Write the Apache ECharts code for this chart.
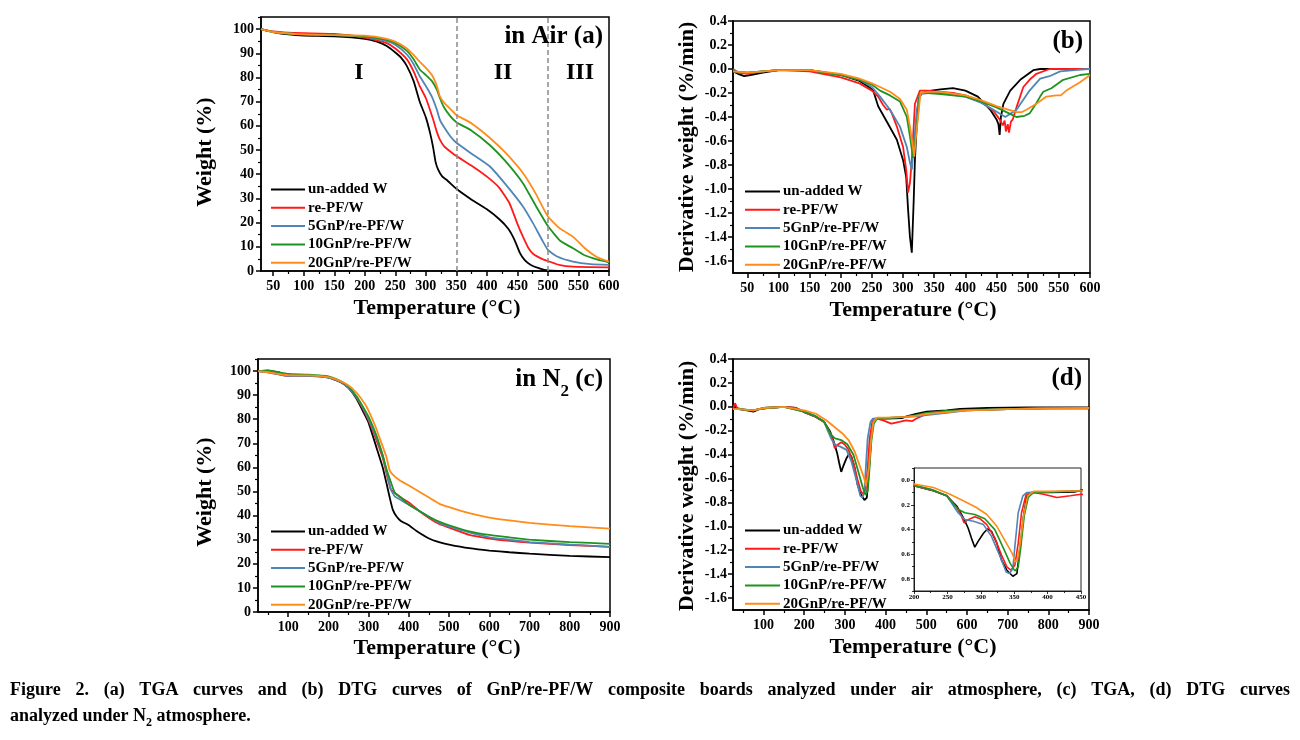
<!DOCTYPE html>
<html><head><meta charset="utf-8">
<script src="https://cdn.jsdelivr.net/npm/echarts@6/dist/echarts.min.js"></script>
<style>html,body{margin:0;padding:0;background:#fff}#c{width:1300px;height:740px}</style>
</head><body><div id="c"></div>
<script>
// ---------- series names ----------
const NAMES = ['un-added W', 're-PF/W', '5GnP/re-PF/W', '10GnP/re-PF/W', '20GnP/re-PF/W'];
const COLORS = ['#000000', '#ff1a1a', '#4f86b5', '#1f931f', '#ff8c1a'];

// ---------- (a) TGA in air : [T(°C), weight %] ----------
const A_UNADDED = [[30,100],[50,98.8],[75,97.8],[100,97.3],[150,97],[200,96],[220,94.8],[236,93],[250,90.3],[260,88],[269,84.7],[280,78.5],[290,70],[300,63.5],[307,57],[312,51],[316,45],[320,42],[327,39],[334,37.7],[350,34],[375,29.5],[400,25.5],[420,21.5],[435,17.5],[445,13],[454,7.5],[462,4.5],[472,2.5],[485,1.2],[500,0.2],[525,0],[600,0]];
const A_REPF = [[30,100],[50,99],[75,98.5],[100,98.3],[150,98],[200,96.5],[236,94.2],[250,92],[269,87.5],[280,82.5],[290,76.4],[300,71.5],[312,62.6],[318,57.5],[323,54.3],[330,51.5],[340,49.4],[350,47.5],[375,43.5],[400,39],[420,34.5],[437,28],[450,19.5],[459,14.2],[468,9.5],[476,7],[490,5],[500,4.1],[520,2.4],[541,1.8],[600,1.5]];
const A_5GNP = [[30,100],[50,98.8],[100,97.8],[150,97.5],[200,96.8],[236,95],[250,93.5],[269,89.5],[280,85.5],[290,80.5],[300,76.5],[310,72],[318,66.7],[323,62.5],[329,59.8],[340,55.7],[350,53],[375,48.5],[405,43.2],[430,36],[459,26.7],[475,20],[490,13],[500,8.7],[515,6],[541,3.9],[570,2.8],[600,2.5]];
const A_10GNP = [[30,100],[50,98.8],[100,97.8],[150,97.5],[200,97],[236,95.5],[250,94.3],[269,91],[280,87.5],[290,83.3],[300,81],[310,78.5],[318,75],[323,71.5],[329,68],[340,64],[350,61.5],[375,58],[405,52],[430,45.5],[459,36.3],[480,27],[500,18.6],[520,12.5],[541,9.4],[560,6.5],[580,4.8],[600,3.6]];
const A_20GNP = [[30,100],[50,98.8],[100,97.8],[150,97.5],[200,97.3],[236,96],[250,94.8],[269,92],[280,89.3],[290,86.5],[300,84],[310,81],[318,76.5],[323,72.2],[330,69.5],[340,67],[350,64.5],[375,61],[405,55],[430,49],[459,40.5],[480,32],[500,22.5],[520,17.5],[541,14.2],[560,9.5],[580,5.8],[600,3.9]];

// ---------- (b) DTG in air : [T, %/min] ----------
const B_UNADDED = [[27,-0.02],[35,-0.04],[45,-0.06],[55,-0.05],[75,-0.03],[100,-0.01],[150,-0.01],[200,-0.05],[230,-0.1],[245,-0.15],[252,-0.18],[260,-0.31],[274,-0.44],[290,-0.59],[300,-0.76],[305,-0.9],[308,-1.17],[311,-1.4],[314,-1.53],[317,-1.1],[319,-0.76],[322,-0.45],[325,-0.25],[330,-0.2],[345,-0.18],[360,-0.17],[380,-0.16],[400,-0.18],[420,-0.23],[440,-0.34],[450,-0.42],[453,-0.46],[455,-0.55],[457,-0.4],[461,-0.29],[472,-0.18],[488,-0.09],[509,-0.01],[520,0],[600,0]];
const B_REPF = [[27,0],[35,-0.03],[50,-0.04],[75,-0.02],[100,-0.01],[150,-0.02],[200,-0.07],[230,-0.12],[250,-0.18],[260,-0.23],[268,-0.3],[274,-0.34],[278,-0.33],[282,-0.37],[290,-0.48],[300,-0.65],[305,-0.84],[308,-1.03],[311,-0.95],[314,-0.76],[319,-0.29],[327,-0.18],[340,-0.18],[360,-0.19],[380,-0.2],[400,-0.22],[425,-0.27],[445,-0.35],[455,-0.42],[460,-0.47],[463,-0.43],[465,-0.52],[468,-0.46],[470,-0.53],[473,-0.44],[476,-0.42],[482,-0.32],[493,-0.15],[503,-0.09],[514,-0.04],[535,0],[600,0]];
const B_5GNP = [[27,-0.02],[50,-0.03],[100,-0.01],[150,-0.01],[200,-0.05],[230,-0.09],[250,-0.15],[263,-0.23],[279,-0.34],[295,-0.48],[306,-0.65],[311,-0.78],[314,-0.84],[317,-0.65],[322,-0.34],[327,-0.21],[340,-0.2],[360,-0.2],[400,-0.23],[425,-0.28],[445,-0.34],[464,-0.4],[482,-0.34],[503,-0.18],[520,-0.08],[535,-0.06],[552,-0.02],[575,-0.01],[597,0],[600,0]];
const B_10GNP = [[27,-0.02],[50,-0.03],[100,-0.01],[150,-0.01],[200,-0.05],[230,-0.09],[250,-0.13],[263,-0.18],[279,-0.22],[295,-0.27],[306,-0.4],[311,-0.56],[316,-0.74],[319,-0.62],[322,-0.48],[327,-0.2],[340,-0.2],[360,-0.21],[400,-0.23],[425,-0.27],[450,-0.32],[470,-0.37],[482,-0.4],[495,-0.39],[503,-0.37],[512,-0.3],[520,-0.23],[525,-0.19],[538,-0.16],[557,-0.09],[584,-0.05],[600,-0.04]];
const B_20GNP = [[27,-0.02],[50,-0.03],[100,-0.01],[150,-0.01],[200,-0.04],[230,-0.08],[250,-0.12],[263,-0.15],[279,-0.19],[295,-0.25],[306,-0.34],[311,-0.48],[318,-0.73],[320,-0.6],[323,-0.45],[328,-0.2],[340,-0.19],[360,-0.19],[400,-0.22],[425,-0.26],[450,-0.31],[470,-0.34],[482,-0.36],[490,-0.36],[498,-0.34],[514,-0.29],[530,-0.23],[546,-0.22],[553,-0.22],[562,-0.18],[584,-0.11],[600,-0.05]];

// ---------- (c) TGA in N2 ----------
const C_UNADDED = [[25,100],[50,100.2],[75,99.5],[100,98.5],[150,98.2],[200,97.3],[230,95.5],[250,93],[270,88.5],[290,82],[300,78.5],[320,68],[335,60],[345,53],[352,47.8],[360,42.5],[370,39.5],[380,37.8],[400,36],[420,33.5],[450,30.5],[475,29],[500,28],[550,26.5],[600,25.5],[650,24.8],[700,24.2],[800,23.3],[900,22.8]];
const C_REPF = [[25,100],[50,99.5],[100,98],[150,98],[200,97.5],[230,95.5],[250,93],[270,89],[290,83],[300,79.5],[320,71],[335,64],[345,57],[355,51],[365,49.5],[380,47.5],[400,45.5],[425,42],[450,39],[475,36.5],[500,35],[550,32],[600,30.5],[650,29.5],[700,28.8],[800,27.8],[900,27]];
const C_5GNP = [[25,100],[50,99.5],[100,98],[150,98],[200,97.3],[230,95.5],[250,93],[270,89],[290,83.5],[300,80],[320,72],[335,65],[345,58],[355,51],[365,48],[380,46.5],[400,44.5],[425,42],[450,39.5],[475,37],[500,35.5],[550,33],[600,31],[650,30],[700,29],[800,28],[900,27]];
const C_10GNP = [[25,100],[50,100.3],[75,99.5],[100,98.8],[150,98.5],[200,97.8],[230,95.8],[250,93.5],[270,89.5],[290,84],[300,81],[320,73],[335,65],[345,59],[355,54],[365,49.5],[380,47.5],[400,44.5],[425,42],[450,39.5],[475,37.5],[500,36],[550,33.5],[600,32],[650,31],[700,30],[800,29],[900,28.3]];
const C_20GNP = [[25,100],[50,99.5],[100,98.3],[150,98.2],[200,97.5],[230,95.8],[250,94],[270,91],[290,86.5],[300,83.5],[317,77],[330,71],[344,64.4],[352,59],[360,57],[377,54.7],[400,52.5],[425,50],[450,47.5],[475,45],[500,43.5],[550,41],[600,39.2],[650,38],[700,37],[800,35.6],[900,34.6]];

// ---------- (d) DTG in N2 ----------
const D_UNADDED = [[25,-0.02],[30,0],[40,-0.02],[60,-0.03],[75,-0.04],[90,-0.02],[110,-0.01],[150,0],[180,-0.01],[200,-0.044],[229,-0.085],[249,-0.126],[264,-0.209],[274,-0.305],[281,-0.388],[286,-0.47],[291,-0.544],[296,-0.497],[304,-0.43],[310,-0.396],[316,-0.415],[324,-0.511],[331,-0.649],[339,-0.731],[348,-0.78],[354,-0.759],[359,-0.539],[364,-0.29],[369,-0.126],[376,-0.099],[404,-0.099],[440,-0.095],[452,-0.08],[475,-0.06],[501,-0.04],[550,-0.03],[583,-0.018],[650,-0.01],[750,-0.005],[900,-0.005]];
const D_REPF = [[25,-0.02],[30,0.03],[35,-0.01],[60,-0.03],[75,-0.03],[100,-0.01],[150,0],[180,-0.01],[200,-0.044],[229,-0.085],[249,-0.126],[264,-0.22],[271,-0.29],[275,-0.346],[281,-0.32],[291,-0.297],[299,-0.313],[309,-0.36],[321,-0.47],[331,-0.608],[339,-0.704],[345,-0.731],[351,-0.69],[356,-0.511],[361,-0.264],[368,-0.113],[379,-0.099],[394,-0.113],[414,-0.14],[434,-0.126],[450,-0.113],[465,-0.12],[475,-0.1],[500,-0.06],[550,-0.04],[600,-0.03],[700,-0.02],[800,-0.01],[900,-0.01]];
const D_5GNP = [[25,-0.02],[40,-0.02],[75,-0.03],[100,-0.01],[150,0],[200,-0.04],[229,-0.08],[249,-0.126],[266,-0.264],[276,-0.319],[289,-0.333],[304,-0.36],[316,-0.456],[329,-0.621],[338,-0.745],[343,-0.759],[348,-0.717],[351,-0.539],[356,-0.264],[363,-0.126],[369,-0.099],[400,-0.095],[450,-0.085],[475,-0.08],[500,-0.07],[550,-0.05],[600,-0.03],[700,-0.02],[800,-0.01],[900,-0.01]];
const D_10GNP = [[25,-0.02],[40,-0.02],[75,-0.03],[100,-0.01],[150,0],[200,-0.04],[229,-0.08],[249,-0.126],[266,-0.236],[276,-0.264],[291,-0.278],[306,-0.313],[321,-0.401],[334,-0.553],[344,-0.676],[351,-0.737],[356,-0.704],[360,-0.539],[365,-0.29],[371,-0.14],[379,-0.099],[400,-0.095],[450,-0.085],[475,-0.07],[500,-0.05],[550,-0.035],[600,-0.025],[700,-0.02],[800,-0.015],[900,-0.015]];
const D_20GNP = [[25,-0.02],[40,-0.02],[75,-0.03],[100,-0.01],[150,0],[200,-0.03],[229,-0.058],[254,-0.113],[279,-0.181],[294,-0.223],[309,-0.278],[324,-0.374],[337,-0.498],[347,-0.594],[352,-0.663],[355,-0.649],[359,-0.511],[364,-0.29],[370,-0.126],[379,-0.09],[400,-0.09],[450,-0.085],[475,-0.075],[500,-0.06],[550,-0.045],[600,-0.03],[650,-0.025],[700,-0.02],[800,-0.015],[900,-0.01]];

// ---------- tick labels ----------
const TICKS_X_600 = [50,100,150,200,250,300,350,400,450,500,550,600];
const TICKS_X_900 = [100,200,300,400,500,600,700,800,900];
const TICKS_Y_WT = [0,10,20,30,40,50,60,70,80,90,100];
const TICKS_Y_DTG = [-1.6,-1.4,-1.2,-1.0,-0.8,-0.6,-0.4,-0.2,0,0.2,0.4];
const TICKS_INSET_X = [200,250,300,350,400,450];
const TICKS_INSET_Y = [0,0.2,0.4,0.6,0.8];
const STAGE_LINES = [350, 500];

// ---------- texts ----------
const CAPTION_LINE1 = 'Figure 2. (a) TGA curves and (b) DTG curves of GnP/re-PF/W composite boards analyzed under air atmosphere, (c) TGA, (d) DTG curves';
const CAPTION_LINE2 = 'analyzed under N{sub|2} atmosphere.';

const FONT = '"Liberation Serif", "Times New Roman", serif';
const BLACK = '#000';

function mids(arr) { const r = []; for (let i = 0; i < arr.length - 1; i++) r.push((arr[i] + arr[i + 1]) / 2); return r; }
function withEnds(arr, lo, hi) { const step = arr[1] - arr[0]; const r = []; if (arr[0] - step / 2 >= lo) r.push(arr[0] - step / 2); r.push(...mids(arr)); if (arr[arr.length - 1] + step / 2 <= hi) r.push(arr[arr.length - 1] + step / 2); return r; }

const grids = [
  {left: 261, top: 17, width: 348, height: 254},
  {left: 733, top: 21, width: 357, height: 252},
  {left: 258, top: 359, width: 352, height: 253},
  {left: 733, top: 359, width: 356, height: 251},
  {left: 914, top: 468, width: 167, height: 123}
].map((g, i) => Object.assign(g, {show: true, borderColor: i === 4 ? '#222' : BLACK, borderWidth: i === 4 ? 1 : 1.5, backgroundColor: i === 4 ? '#fff' : 'transparent', containLabel: false}));

function axisPair(dim, gi, min, max, labels, fmt, opts) {
  opts = opts || {};
  const fs = opts.fs || 14;
  const major = {
    type: 'value', gridIndex: gi, min, max, inverse: !!opts.inverse,
    axisLine: {show: true, onZero: false, lineStyle: {color: BLACK, width: opts.lw || 1.5}},
    axisTick: {show: true, customValues: labels, length: opts.tl || 5, lineStyle: {color: BLACK, width: opts.lw || 1.5}},
    axisLabel: {customValues: labels, formatter: fmt, fontFamily: FONT, fontWeight: 'bold', fontSize: fs, color: BLACK, margin: opts.margin || 8},
    splitLine: {show: false}
  };
  const minorVals = opts.minors || withEnds(labels, min, max);
  const minor = {
    type: 'value', gridIndex: gi, min, max, inverse: !!opts.inverse,
    axisLine: {show: false, onZero: false}, axisLabel: {show: false}, splitLine: {show: false},
    axisTick: {show: true, customValues: minorVals, length: opts.mtl || 3, lineStyle: {color: BLACK, width: opts.lw || 1.2}}
  };
  if (dim === 'y') { major.position = 'left'; minor.position = 'left'; }
  else { major.position = 'bottom'; minor.position = 'bottom'; }
  return [major, minor];
}
const fmtInt = v => String(Math.round(v));
const fmt1 = v => (Math.abs(v) < 1e-9 ? 0 : v).toFixed(1);

const xAxes = [
  ...axisPair('x', 0, 30, 600, TICKS_X_600, fmtInt),
  ...axisPair('x', 1, 27, 600, TICKS_X_600, fmtInt),
  ...axisPair('x', 2, 25, 900, TICKS_X_900, fmtInt),
  ...axisPair('x', 3, 25, 900, TICKS_X_900, fmtInt),
  ...axisPair('x', 4, 200, 450, TICKS_INSET_X, fmtInt, {fs: 7, margin: 3, tl: 3, mtl: 2, lw: 0.8, minors: [225,275,325,375,425]})
];
const yAxes = [
  ...axisPair('y', 0, 0, 105, TICKS_Y_WT, fmtInt, {margin: 7}),
  ...axisPair('y', 1, -1.7, 0.4, TICKS_Y_DTG, fmt1, {margin: 6}),
  ...axisPair('y', 2, 0, 105, TICKS_Y_WT, fmtInt, {margin: 7}),
  ...axisPair('y', 3, -1.7, 0.4, TICKS_Y_DTG, fmt1, {margin: 6}),
  ...axisPair('y', 4, -0.1, 0.9, TICKS_INSET_Y, fmt1, {fs: 7, margin: 4, tl: 3, mtl: 2, lw: 0.8, inverse: true, minors: [-0.1,0.1,0.3,0.5,0.7,0.9]})
];

const PANELS = [
  [A_UNADDED, A_REPF, A_5GNP, A_10GNP, A_20GNP],
  [B_UNADDED, B_REPF, B_5GNP, B_10GNP, B_20GNP],
  [C_UNADDED, C_REPF, C_5GNP, C_10GNP, C_20GNP],
  [D_UNADDED, D_REPF, D_5GNP, D_10GNP, D_20GNP]
];
const series = [];
PANELS.forEach((sets, p) => {
  sets.forEach((data, k) => {
    const s = {
      type: 'line', name: NAMES[k], data, xAxisIndex: 2 * p, yAxisIndex: 2 * p,
      symbol: 'none', showSymbol: false, smooth: (p === 0 || p === 2) ? 0.15 : false,
      lineStyle: {color: COLORS[k], width: 1.8}, itemStyle: {color: COLORS[k]},
      animation: false, silent: true, clip: true
    };
    if (p === 0 && k === 0) {
      s.markLine = {silent: true, symbol: 'none', animation: false, label: {show: false},
        lineStyle: {type: [5, 3], color: '#8a8a8a', width: 1.5},
        data: STAGE_LINES.map(v => ({xAxis: v}))};
    }
    series.push(s);
  });
});
// inset of (d): same N2 DTG data, plotted as magnitude on an inverted axis
PANELS[3].forEach((data, k) => {
  series.push({
    type: 'line', name: NAMES[k], data: data.map(d => [d[0], -d[1]]), xAxisIndex: 8, yAxisIndex: 8,
    symbol: 'none', showSymbol: false, lineStyle: {color: COLORS[k], width: 1.6}, itemStyle: {color: COLORS[k]},
    animation: false, silent: true, clip: true, z: 5
  });
});

function legendAt(left, top, w) {
  return {
    show: true, orient: 'vertical', left, top, itemWidth: w, itemHeight: 2, itemGap: 3.3,
    data: NAMES.map(n => ({name: n, icon: 'rect'})), selectedMode: false,
    textStyle: {fontFamily: FONT, fontWeight: 'bold', fontSize: 15, color: BLACK, lineHeight: 15, padding: [0, 0, 0, -2]}
  };
}
const legends = [legendAt(266, 177, 34), legendAt(740, 179, 35), legendAt(266, 519, 34), legendAt(740, 518, 35)];

function txt(x, y, text, size, align, extra) {
  return Object.assign({type: 'text', x, y, silent: true, z: 100,
    style: Object.assign({text, fill: BLACK, fontFamily: FONT, fontWeight: 'bold', fontSize: size, align: align || 'center', verticalAlign: 'middle'}, extra || {})});
}
function vtxt(x, y, text, size) {
  const t = txt(x, y, text, size, 'center');
  t.rotation = Math.PI / 2;
  return t;
}

const graphics = [
  vtxt(205, 152, 'Weight (%)', 22),
  txt(437, 308, 'Temperature (°C)', 22),
  vtxt(687, 147, 'Derivative weight (%/min)', 22),
  txt(913, 310, 'Temperature (°C)', 22),
  vtxt(205, 492, 'Weight (%)', 22),
  txt(437, 648, 'Temperature (°C)', 22),
  vtxt(687, 486, 'Derivative weight (%/min)', 22),
  txt(913, 647, 'Temperature (°C)', 22),
  txt(603, 37, 'in Air (a)', 25, 'right'),
  txt(359, 73, 'I', 24),
  txt(503, 73, 'II', 24),
  txt(580, 73, 'III', 24),
  txt(1083, 42, '(b)', 25, 'right'),
  txt(603, 380, 'in N{sub|2} (c)', 25, 'right', {rich: {sub: {fontFamily: FONT, fontWeight: 'bold', fontSize: 17, lineHeight: 40, verticalAlign: 'bottom', fill: BLACK}}}),
  txt(1082, 379, '(d)', 25, 'right')
];

// caption, line 1 justified between the page margins
(function () {
  const CAP_L = 10, CAP_R = 1290, Y1 = 690, Y2 = 716, FS = 18;
  const ctx = document.createElement('canvas').getContext('2d');
  ctx.font = 'bold ' + FS + 'px ' + FONT;
  const words = CAPTION_LINE1.split(' ');
  const widths = words.map(w => ctx.measureText(w).width);
  const total = widths.reduce((a, b) => a + b, 0);
  const gap = (CAP_R - CAP_L - total) / (words.length - 1);
  let x = CAP_L;
  words.forEach((w, i) => { graphics.push(txt(x, Y1, w, FS, 'left')); x += widths[i] + gap; });
  graphics.push(txt(CAP_L, Y2, CAPTION_LINE2, FS, 'left', {rich: {sub: {fontFamily: FONT, fontWeight: 'bold', fontSize: 12, lineHeight: 26, verticalAlign: 'bottom', fill: BLACK}}}));
})();

const chart = echarts.init(document.getElementById('c'), null, {renderer: 'canvas'});
chart.setOption({
  backgroundColor: '#fff',
  animation: false,
  grid: grids,
  xAxis: xAxes,
  yAxis: yAxes,
  legend: legends,
  series,
  graphic: graphics
});
</script></body></html>
